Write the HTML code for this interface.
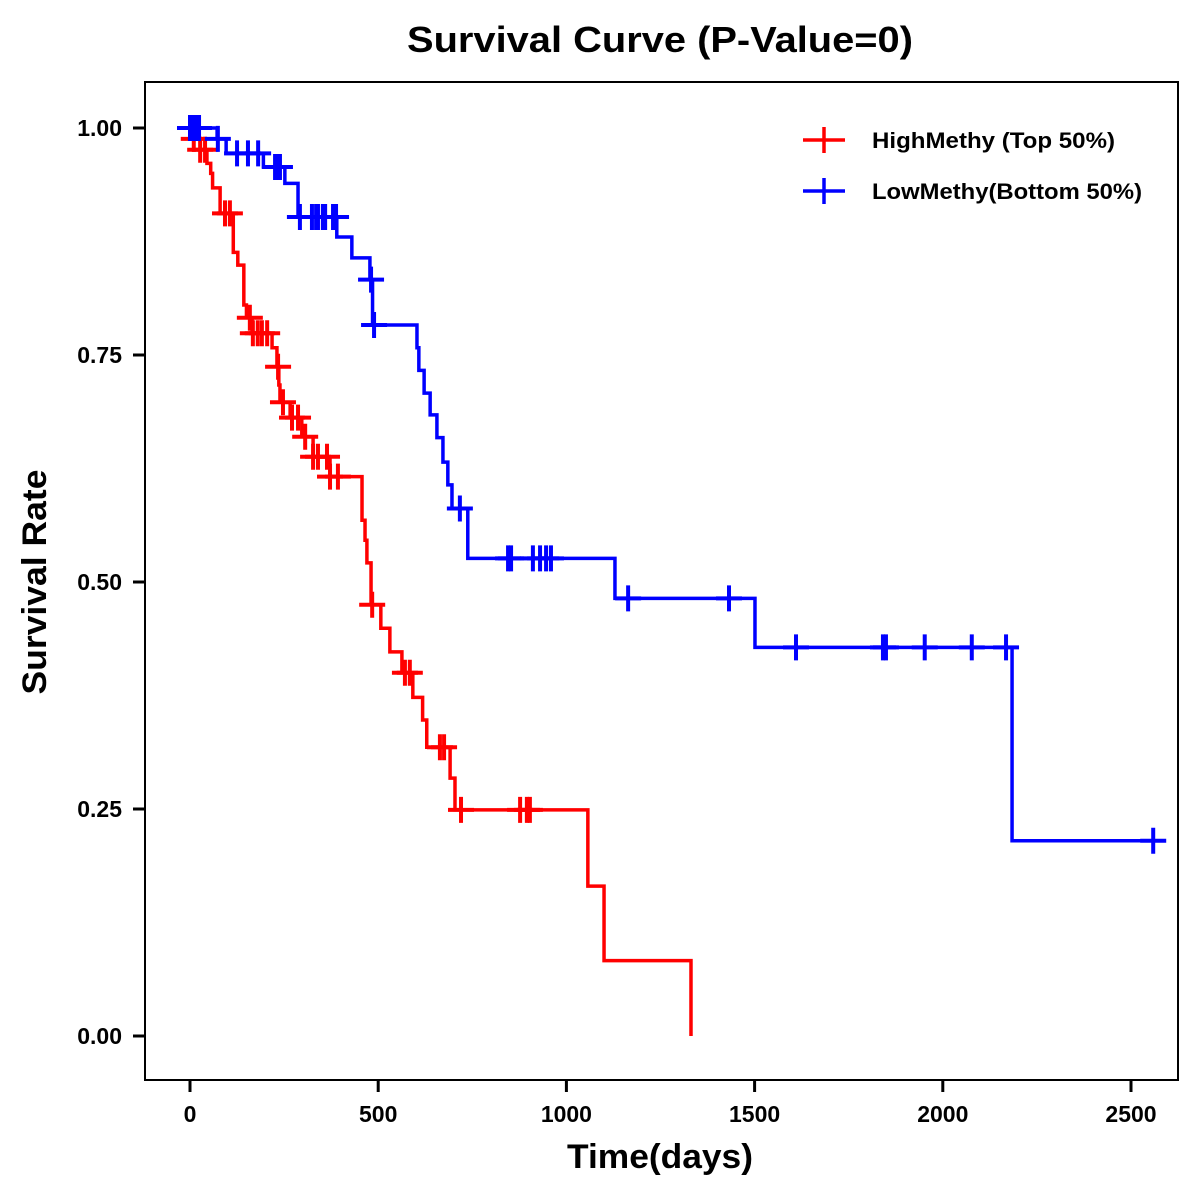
<!DOCTYPE html>
<html><head><meta charset="utf-8"><style>
html,body{margin:0;padding:0;background:#fff;}
svg{display:block;font-family:"Liberation Sans",Arial,sans-serif;font-weight:bold;}
</style></head><body>
<svg id="chart" width="1200" height="1200" viewBox="0 0 1200 1200" xmlns="http://www.w3.org/2000/svg">
<rect x="0" y="0" width="1200" height="1200" fill="#fff"/>
<text x="660" y="52" font-size="36" text-anchor="middle" textLength="506" lengthAdjust="spacingAndGlyphs">Survival Curve (P-Value=0)</text>
<rect x="145" y="82" width="1033" height="998" fill="none" stroke="#000" stroke-width="2"/>
<g id="axes"></g>
<g id="series"></g>
<text x="660" y="1168" font-size="34" text-anchor="middle" textLength="186" lengthAdjust="spacingAndGlyphs">Time(days)</text>
<text x="46" y="582" font-size="34" text-anchor="middle" textLength="225" lengthAdjust="spacingAndGlyphs" transform="rotate(-90 46 582)">Survival Rate</text>
<g>
<g>
<line x1="803" y1="140" x2="845" y2="140" stroke="#ff0000" stroke-width="3.5"/>
<line x1="824" y1="127" x2="824" y2="153" stroke="#ff0000" stroke-width="3.5"/>
<text x="872" y="148" font-size="22" textLength="243" lengthAdjust="spacingAndGlyphs">HighMethy (Top 50%)</text>
</g>
<g>
<line x1="803" y1="191" x2="845" y2="191" stroke="#0000ff" stroke-width="3.5"/>
<line x1="824" y1="178" x2="824" y2="204" stroke="#0000ff" stroke-width="3.5"/>
<text x="872" y="199" font-size="22" textLength="270" lengthAdjust="spacingAndGlyphs">LowMethy(Bottom 50%)</text>
</g>
</g>
</svg>
<script>
const xTicks = [0, 500, 1000, 1500, 2000, 2500];
const yTicks = [0, 0.25, 0.5, 0.75, 1.0];
const yTickLabels = ["0.00", "0.25", "0.50", "0.75", "1.00"];

const highTimes = [0,5,27,45,55,60,80,115,127,143,150,165,218,231,236,239,266,297,327,372,457,465,470,481,507,531,563,592,618,629,691,704,1057,1100,1331];
const highSurv  = [1.0,0.988,0.976,0.961,0.950,0.934,0.906,0.863,0.849,0.805,0.791,0.774,0.758,0.737,0.717,0.698,0.681,0.660,0.638,0.616,0.568,0.546,0.521,0.475,0.449,0.423,0.400,0.373,0.348,0.318,0.284,0.249,0.165,0.083,0.0];
const highCensor = [10,27,40,93,106,159,167,180,191,205,234,247,271,287,306,327,340,364,372,393,484,571,584,664,675,720,877,895,903];
const highEnd = 1331;

const lowTimes = [0,72,96,195,252,287,390,430,478,485,603,608,622,638,656,672,685,696,738,1129,1501,2184];
const lowSurv  = [1.0,0.988,0.972,0.957,0.939,0.902,0.880,0.857,0.833,0.783,0.758,0.733,0.708,0.684,0.659,0.632,0.607,0.581,0.526,0.482,0.428,0.215];
const lowCensor = [0,2,8,16,24,74,125,154,181,226,234,239,292,324,335,340,353,359,380,388,481,489,717,845,853,911,930,946,959,1164,1432,1610,1841,1849,1952,2077,2168,2559];
const lowEnd = 2585;

const NS = "http://www.w3.org/2000/svg";
function xs(t){ return 190 + t * (941/2500); }
function ys(s){ return 1036 - s * 908; }
function mk(tag, attrs, parent){
  const e = document.createElementNS(NS, tag);
  for (const k in attrs) e.setAttribute(k, attrs[k]);
  parent.appendChild(e);
  return e;
}
const axes = document.getElementById('axes');
xTicks.forEach(function(t){
  const l = mk('line', {x1: xs(t), x2: xs(t), y1: 1081, y2: 1092, stroke: '#000', 'stroke-width': 3}, axes);
  
  
  const tx = mk('text', {x: xs(t), y: 1122, 'font-size': 23, 'text-anchor': 'middle'}, axes);
  tx.textContent = String(t);
  
  
});
yTicks.forEach(function(v, i){
  const l = mk('line', {x1: 133, x2: 144, y1: ys(v), y2: ys(v), stroke: '#000', 'stroke-width': 3}, axes);
  
  
  const tx = mk('text', {x: 122, y: ys(v) + 8, 'font-size': 23, 'text-anchor': 'end'}, axes);
  tx.textContent = yTickLabels[i];
  
  
});
function survAt(times, surv, t){
  let s = surv[0];
  for (let i = 0; i < times.length; i++){ if (times[i] <= t) s = surv[i]; }
  return s;
}
const series = document.getElementById('series');
function drawSeries(times, surv, censor, end, color, name){
  let d = 'M' + xs(times[0]) + ' ' + ys(surv[0]);
  for (let i = 1; i < times.length; i++){
    d += ' H' + xs(times[i]) + ' V' + ys(surv[i]);
  }
  d += ' H' + xs(end);
  const p = mk('path', {d: d, fill: 'none', stroke: color, 'stroke-width': 3.5}, series);
  
  
  censor.forEach(function(t){
    const cx = xs(t), cy = ys(survAt(times, surv, t));
    const g = mk('path', {d: 'M' + (cx - 13) + ' ' + cy + ' H' + (cx + 13) + ' M' + cx + ' ' + (cy - 13) + ' V' + (cy + 13), stroke: color, 'stroke-width': 4, fill: 'none'}, series);
    
    
  });
}
drawSeries(highTimes, highSurv, highCensor, highEnd, '#ff0000', 'high-methy');
drawSeries(lowTimes, lowSurv, lowCensor, lowEnd, '#0000ff', 'low-methy');
</script>
</body></html>
